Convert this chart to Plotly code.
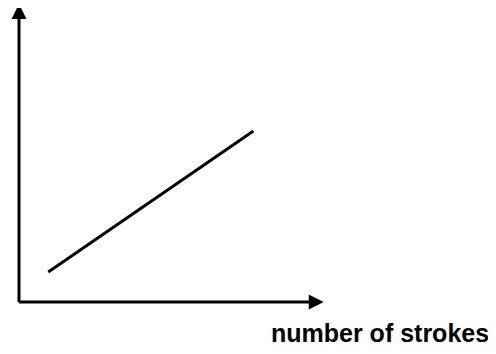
import plotly.graph_objects as go

# sketch: the quantity rises linearly with the number of strokes
strokes = [1, 8]
response = [1.06, 6.06]

x_axis_end = 10.4
y_axis_end = 10.57
x_label = "number of strokes"

# the page body has an 8px margin, so the figure is placed at (8, 8)
W, H = 488, 346
ox, oy = 11, 294          # origin in figure pixels
ux, uy = 29.3, 28.2       # pixels per unit

fig = go.Figure()

fig.add_trace(go.Scatter(
    x=strokes,
    y=response,
    mode="lines",
    line=dict(color="#000000", width=3),
    hoverinfo="skip",
    showlegend=False,
))

arrow = dict(
    xref="x", yref="y", axref="x", ayref="y",
    text="", showarrow=True,
    arrowhead=2, arrowsize=1, arrowwidth=3, arrowcolor="#000000",
    standoff=0, startstandoff=0,
)
# y axis
fig.add_annotation(x=0, y=y_axis_end, ax=0, ay=-0.06, **arrow)
# x axis
fig.add_annotation(x=x_axis_end, y=0, ax=-0.05, ay=0, **arrow)

fig.add_annotation(
    xref="paper", yref="paper",
    x=261 / W, y=(H - 325) / H,
    xanchor="left", yanchor="middle",
    text="<b>" + x_label + "</b>", showarrow=False,
    font=dict(family="Liberation Sans", size=25, color="#000000"),
)

fig.update_xaxes(range=[-ox / ux, (W - ox) / ux], visible=False, fixedrange=True)
fig.update_yaxes(range=[-(H - oy) / uy, oy / uy], visible=False, fixedrange=True)

fig.update_layout(
    width=W, height=H,
    margin=dict(l=0, r=0, t=0, b=0),
    paper_bgcolor="white",
    plot_bgcolor="white",
)

fig.write_html("out.html")
